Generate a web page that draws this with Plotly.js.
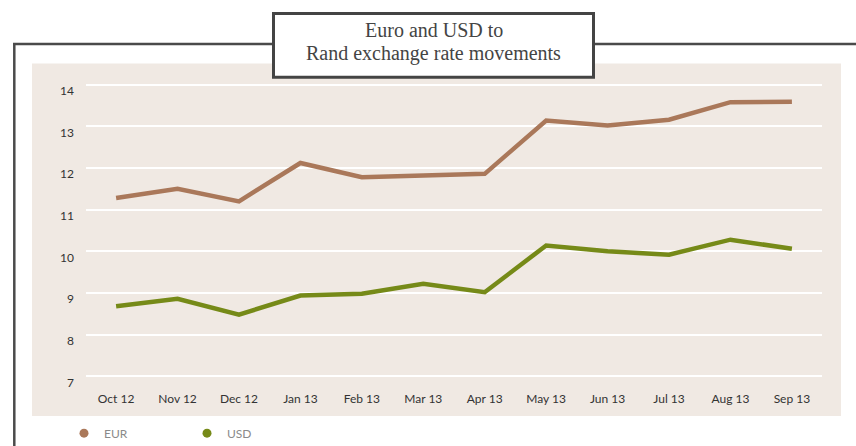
<!DOCTYPE html>
<html>
<head>
<meta charset="utf-8">
<script src="https://cdn.plot.ly/plotly-3.0.1.min.js"></script>
<style>html,body{margin:0;padding:0;background:#fff;}#chart{width:856px;height:446px;}</style>
</head>
<body>
<div id="chart"></div>
<script>
const months = ['Oct 12','Nov 12','Dec 12','Jan 13','Feb 13','Mar 13','Apr 13','May 13','Jun 13','Jul 13','Aug 13','Sep 13'];
const eur = [11.28, 11.50, 11.20, 12.12, 11.78, 11.82, 11.86, 13.14, 13.02, 13.16, 13.58, 13.59];
const usd = [8.68, 8.86, 8.48, 8.94, 8.98, 9.22, 9.02, 10.14, 10.00, 9.92, 10.28, 10.06];
const yTicks = [7, 8, 9, 10, 11, 12, 13, 14];
const seriesNames = ['EUR', 'USD'];
const titleLines = ['Euro and USD to', 'Rand exchange rate movements'];

const W = 856, H = 446;
const L = 86, R = 822, T = 85, B = 376;   // pixel positions of x-range ends and y=14 / y=7
const yMin = 7, yMax = 14, yPad = 0.04;
const unit = (B - T) / (yMax - yMin);
const tM = T - yPad * unit, bM = (H - B) - yPad * unit;
const PT = tM, PB = H - bM;               // actual plot-area top/bottom pixels
const px = x => (x - L) / (R - L);
const py = y => (PB - y) / (PB - PT);

const eurColor = '#aa785a', usdColor = '#768a18';

const traces = [
  {x: months, y: eur, type: 'scatter', mode: 'lines', line: {color: eurColor, width: 4.5}, showlegend: false, hoverinfo: 'skip'},
  {x: months, y: usd, type: 'scatter', mode: 'lines', line: {color: usdColor, width: 4.5}, showlegend: false, hoverinfo: 'skip'},
  {x: [null], y: [null], type: 'scatter', mode: 'markers', name: seriesNames[0], marker: {color: eurColor, size: 9, symbol: 'circle'}},
  {x: [null], y: [null], type: 'scatter', mode: 'markers', name: seriesNames[1], marker: {color: usdColor, size: 9, symbol: 'circle'}}
];

const layout = {
  width: W, height: H,
  margin: {l: L, r: W - R, t: tM, b: bM, pad: 0, autoexpand: false},
  paper_bgcolor: '#ffffff',
  plot_bgcolor: 'rgba(0,0,0,0)',
  font: {family: 'Lato, "Noto Sans", sans-serif', color: '#333', size: 12},
  showlegend: true,
  legend: {
    orientation: 'h', x: px(64), xanchor: 'left', y: py(432.7), yanchor: 'middle',
    entrywidth: 78, entrywidthmode: 'pixels',
    font: {family: 'Lato, "Noto Sans", sans-serif', size: 12, color: '#8a8a8a'},
    bgcolor: 'rgba(0,0,0,0)', itemclick: false
  },
  xaxis: {
    type: 'category', range: [-0.49, 11.49],
    showgrid: false, zeroline: false, showline: false, ticks: '',
    ticklabelstandoff: 12,
    tickfont: {size: 12, color: '#333', family: 'Lato, "Noto Sans", sans-serif'},
    fixedrange: true
  },
  yaxis: {
    range: [yMin - yPad, yMax + yPad], tickvals: yTicks, ticktext: yTicks.map(String),
    showgrid: true, gridcolor: '#ffffff', gridwidth: 2,
    zeroline: false, showline: false, ticks: '',
    ticklabelstandoff: 11, ticklabelshift: 6,
    tickfont: {size: 12, color: '#333', family: 'Lato, "Noto Sans", sans-serif'},
    fixedrange: true
  },
  shapes: [
    {type: 'rect', xref: 'paper', yref: 'paper', layer: 'below',
     x0: px(32), x1: px(841), y0: py(415.5), y1: py(64), fillcolor: '#f0e9e3', line: {width: 0}},
    {type: 'line', xref: 'paper', yref: 'paper', layer: 'above',
     x0: px(14.3), x1: px(14.3), y0: py(44.5), y1: py(460), line: {color: '#4a4a4a', width: 2.5}},
    {type: 'line', xref: 'paper', yref: 'paper', layer: 'above',
     x0: px(13), x1: px(870), y0: py(44.5), y1: py(44.5), line: {color: '#4a4a4a', width: 2.5}},
    {type: 'rect', xref: 'paper', yref: 'paper', layer: 'above',
     x0: px(273.5), x1: px(593.5), y0: py(77.5), y1: py(14), fillcolor: '#ffffff', line: {color: '#444', width: 3}}
  ],
  annotations: titleLines.map((t, i) => ({
    xref: 'paper', yref: 'paper', x: px(433.5), y: py(i === 0 ? 30.5 : 53.5), xanchor: 'center', yanchor: 'middle',
    text: t, showarrow: false,
    font: {family: '"Liberation Serif", "DejaVu Serif", serif', size: 20, color: '#444'}
  }))
};

Plotly.newPlot('chart', traces, layout, {displayModeBar: false, staticPlot: true});
</script>
</body>
</html>
